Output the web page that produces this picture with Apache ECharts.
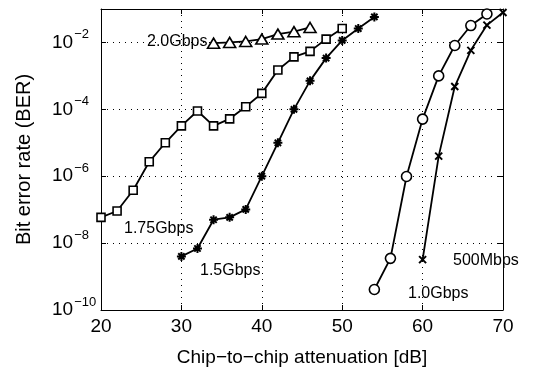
<!DOCTYPE html>
<html><head><meta charset="utf-8">
<script src="https://cdn.jsdelivr.net/npm/echarts@6/dist/echarts.min.js"></script>
<style>html,body{margin:0;padding:0;background:#fff}#c{width:549px;height:372px}</style>
</head><body><div id="c"></div>
<script>
// Data (x = attenuation dB, y = BER)
const x20 = [34, 36, 38, 40, 42, 44, 46];
const ber20 = [9.5e-3, 1.0e-2, 1.07e-2, 1.26e-2, 1.78e-2, 2.1e-2, 2.8e-2];
const x175 = [20, 22, 24, 26, 28, 30, 32, 34, 36, 38, 40, 42, 44, 46, 48, 50];
const ber175 = [5.9e-8, 9.1e-8, 3.8e-7, 2.7e-6, 1.0e-5, 3.2e-5, 8.9e-5, 3.2e-5, 5.2e-5, 1.2e-4, 3.0e-4, 1.5e-3, 3.7e-3, 5.4e-3, 1.26e-2, 2.6e-2];
const x15 = [30, 32, 34, 36, 38, 40, 42, 44, 46, 48, 50, 52, 54];
const ber15 = [4.0e-9, 6.9e-9, 5.0e-8, 5.9e-8, 1.02e-7, 1.0e-6, 1.0e-5, 1.0e-4, 7.1e-4, 3.4e-3, 1.15e-2, 2.6e-2, 5.8e-2];
const x10 = [54, 56, 58, 60, 62, 64, 66, 68];
const ber10 = [4.1e-10, 3.5e-9, 9.8e-7, 5.1e-5, 1.0e-3, 8.1e-3, 3.2e-2, 7.1e-2];
const x05 = [60, 62, 64, 66, 68, 70];
const ber05 = [3.2e-9, 4.0e-6, 4.8e-4, 5.8e-3, 3.3e-2, 7.9e-2];
const xTicks = [20, 30, 40, 50, 60, 70];
const seriesNames = ['2.0Gbps', '1.75Gbps', '1.5Gbps', '1.0Gbps', '500Mbps'];
const xTitle = 'Chip\u2212to\u2212chip attenuation [dB]';
const yTitle = 'Bit error rate (BER)';

const pair = (xs, ys) => xs.map((v, i) => [v, ys[i]]);
const FONT = 'Liberation Sans';
const hollow = { color: '#fff', borderColor: '#000', borderWidth: 1.6 };
const strokeOnly = { color: 'none', borderColor: '#000', borderWidth: 2 };
const asterisk = 'path://M5,0L5,10M0,5L10,5M1.5,1.5L8.5,8.5M8.5,1.5L1.5,8.5';
const cross = 'path://M0,0L10,10M10,0L0,10';

function mk(name, data, symbol, size, style) {
  return { name, type: 'line', data, symbol, symbolSize: size, showAllSymbol: true,
    lineStyle: { color: '#000', width: 1.8 }, itemStyle: style, z: 5, animation: false };
}

const yFmt = v => {
  const e = Math.round(Math.log10(v));
  if (e % 2 !== 0) return '';
  return '{b|10}{s|\u2212' + Math.abs(e) + '}';
};

const chart = echarts.init(document.getElementById('c'));
chart.setOption({
  animation: false,
  backgroundColor: '#fff',
  grid: { left: 101, right: 46, top: 9, bottom: 62 },
  xAxis: [{
    type: 'value', min: 20, max: 70, interval: 10, position: 'bottom',
    axisLine: { lineStyle: { color: '#000', width: 1 } },
    axisTick: { inside: true, length: 5, lineStyle: { color: '#000' } },
    axisLabel: { color: '#000', fontSize: 19, fontFamily: FONT, margin: 7 },
    splitLine: { show: true, lineStyle: { color: '#000', type: [1, 5], width: 1 } },
    name: xTitle, nameLocation: 'middle', nameGap: 38,
    nameTextStyle: { color: '#000', fontSize: 19, fontFamily: FONT }
  }, {
    type: 'value', min: 20, max: 70, interval: 10, position: 'top',
    axisLine: { lineStyle: { color: '#000', width: 1 } },
    axisTick: { inside: true, length: 5, lineStyle: { color: '#000' } },
    axisLabel: { show: false }, splitLine: { show: false }
  }],
  yAxis: [{
    type: 'log', logBase: 10, min: 1e-10, max: 1e-1, interval: 2, position: 'left',
    axisLine: { show: true, lineStyle: { color: '#000', width: 1 } },
    axisTick: { show: true, inside: true, length: 5, lineStyle: { color: '#000' } },
    minorTick: { show: false },
    axisLabel: { color: '#000', fontFamily: FONT, margin: 49, align: 'left', formatter: yFmt,
      rich: { b: { fontSize: 19, fontFamily: FONT, color: '#000', lineHeight: 29, verticalAlign: 'middle' },
              s: { fontSize: 13, fontFamily: FONT, color: '#000', lineHeight: 13, verticalAlign: 'top', padding: [0, 0, 0, 1] } } },
    splitLine: { show: true, lineStyle: { color: '#000', type: [1, 5], width: 1 } },
    name: yTitle, nameLocation: 'middle', nameGap: 67, nameRotate: 90,
    nameTextStyle: { color: '#000', fontSize: 20, fontFamily: FONT }
  }, {
    type: 'log', logBase: 10, min: 1e-10, max: 1e-1, interval: 2, position: 'right',
    axisLine: { show: true, lineStyle: { color: '#000', width: 1 } },
    axisTick: { show: true, inside: true, length: 5, lineStyle: { color: '#000' } },
    axisLabel: { show: false }, splitLine: { show: false }
  }],
  series: [
    mk(seriesNames[0], pair(x20, ber20), 'triangle', [12, 10], hollow),
    mk(seriesNames[1], pair(x175, ber175), 'rect', 8, hollow),
    mk(seriesNames[2], pair(x15, ber15), asterisk, 9, strokeOnly),
    mk(seriesNames[3], pair(x10, ber10), 'circle', 10, hollow),
    mk(seriesNames[4], pair(x05, ber05), cross, 7, strokeOnly)
  ],
  graphic: [
    { type: 'text', left: 147, top: 34, style: { text: seriesNames[0], fontSize: 16, fontFamily: FONT, fill: '#000' } },
    { type: 'text', left: 124, top: 221, style: { text: seriesNames[1], fontSize: 16, fontFamily: FONT, fill: '#000' } },
    { type: 'text', left: 200, top: 263, style: { text: seriesNames[2], fontSize: 16, fontFamily: FONT, fill: '#000' } },
    { type: 'text', left: 408, top: 286, style: { text: seriesNames[3], fontSize: 16, fontFamily: FONT, fill: '#000' } },
    { type: 'text', left: 453, top: 253, style: { text: seriesNames[4], fontSize: 16, fontFamily: FONT, fill: '#000' } }
  ]
});
</script></body></html>
